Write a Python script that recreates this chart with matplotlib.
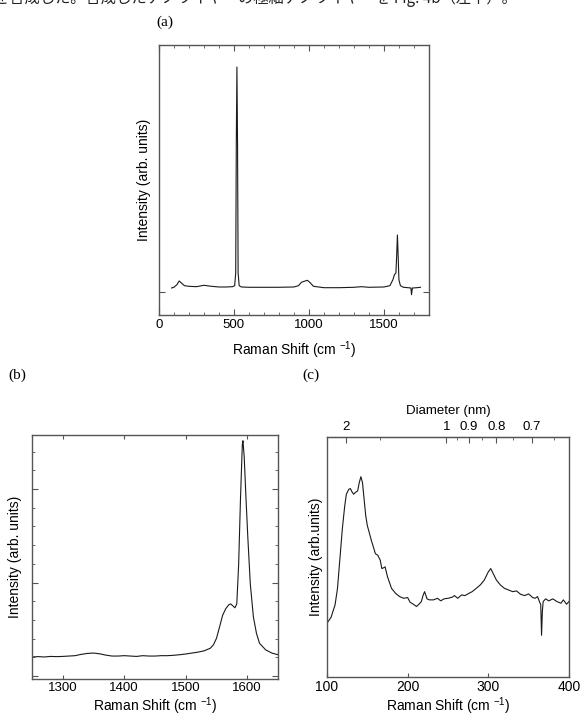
import numpy as np
import matplotlib
matplotlib.use("Agg")
from matplotlib import pyplot as plt
from matplotlib.ticker import MultipleLocator, FixedLocator, NullFormatter

plt.rcParams['font.family'] = ['Liberation Sans', 'DejaVu Sans']
plt.rcParams['mathtext.fontset'] = 'custom'
plt.rcParams['mathtext.rm'] = 'Liberation Sans'
plt.rcParams['mathtext.it'] = 'Liberation Sans:italic'

# (a) wide Raman spectrum
shift_a = [84, 100, 120, 135, 150, 170, 200, 250, 300, 350, 400, 450, 490, 505,
           512, 516, 520, 524, 528, 535, 550, 600, 700, 800, 900, 930, 950, 975,
           990, 1010, 1030, 1100, 1200, 1300, 1350, 1400, 1500, 1540, 1560, 1570,
           1580, 1585, 1590, 1595, 1600, 1610, 1630, 1660, 1680, 1684, 1690, 1720,
           1744]
int_a = [4, 4.7, 7.3, 11, 9, 6.3, 5.7, 5.3, 6.7, 5.7, 5, 5, 5.3, 6.3,
         19, 152, 225, 152, 19, 6.3, 5, 4.7, 4.7, 4.7, 5, 6.3, 9.7, 11,
         11.7, 9, 5.7, 4.3, 4.3, 4.7, 5.3, 4.7, 5, 6.3, 12.3, 17.3,
         19, 36, 57, 36, 12.3, 6.3, 4.7, 4.3, 4, -2.7, 4, 4.3,
         4.7]

# (b) G band region
shift_b = [1250, 1260, 1270, 1280, 1290, 1300, 1310, 1320, 1330, 1340, 1350, 1360,
           1370, 1380, 1390, 1400, 1410, 1420, 1430, 1440, 1450, 1460, 1470, 1480,
           1490, 1500, 1510, 1520, 1530, 1540, 1545, 1550, 1555, 1560, 1565, 1570,
           1573, 1576, 1580, 1583, 1586, 1589, 1592, 1593, 1595, 1598, 1601, 1605,
           1610, 1615, 1620, 1630, 1640, 1650]
int_b = [1.02, 1.04, 1.02, 1.05, 1.04, 1.05, 1.07, 1.09, 1.16, 1.21, 1.23, 1.19,
         1.12, 1.07, 1.07, 1.09, 1.07, 1.05, 1.09, 1.07, 1.07, 1.09, 1.09, 1.11,
         1.14, 1.18, 1.23, 1.28, 1.35, 1.49, 1.67, 2.02, 2.63, 3.25, 3.6, 3.81,
         3.86, 3.77, 3.65, 3.86, 5.96, 9.47, 12.37, 12.58, 11.75, 9.47, 7.37, 4.91,
         3.16, 2.28, 1.75, 1.4, 1.23, 1.14]

# (c) RBM region
shift_c = [100, 105, 110, 113, 116, 119, 122, 124, 127, 129, 131, 133, 135, 138,
           140, 142, 144, 146, 148, 150, 155, 160, 163, 166, 168, 170, 172, 175,
           180, 185, 190, 195, 200, 203, 207, 211, 214, 217, 219, 221, 224, 227,
           232, 237, 241, 245, 250, 255, 258, 262, 267, 271, 276, 280, 285, 290,
           295, 300, 303, 306, 310, 315, 320, 325, 330, 335, 340, 345, 350, 355,
           358, 361, 363, 365, 366, 367, 368, 371, 375, 380, 385, 390, 393, 397, 400]
int_c = [54.3, 60, 72.7, 89.3, 119.3, 149.3, 172.7, 184.3, 189.3, 190, 186.7, 184.3,
         186, 187.7, 196, 202, 196, 179.3, 162.7, 152.7, 137.7, 124.3, 122.7, 117.7,
         109.3, 110, 111, 101, 89.3, 84.3, 81, 79.3, 80, 75.3, 73.3, 71, 73.3, 76,
         82, 86, 78.7, 77.7, 77.7, 79.3, 76.7, 78.7, 79.3, 80.3, 82, 79.3, 82.7, 82,
         84.3, 86, 89.3, 92.7, 97.7, 106, 109.3, 104.3, 97.7, 92.7, 89.3, 87.7, 86,
         86.7, 83.3, 82, 83.7, 80, 79.3, 81, 76.7, 72.7, 42, 66, 76, 78.7, 76.7, 78.7,
         76, 74.3, 77.7, 73.3, 76]

diam_major = [2, 1, 0.9, 0.8, 0.7]
diam_minor = [1.5, 0.95, 0.85, 0.75, 0.65]

line_kw = dict(color='#1a1a1a', lw=0.8)
spine_col = '#555555'
xlabel = r'Raman Shift (cm $^{-1}$)'

fig = plt.figure(figsize=(5.8, 7.18), dpi=100)


def style_spines(ax):
    for s in ax.spines.values():
        s.set_color(spine_col)
        s.set_linewidth(1.0)


# ---- (a)
ax1 = fig.add_axes([0.274, 0.5613, 0.4655, 0.376])
ax1.plot(shift_a, int_a, **line_kw)
ax1.set_xlim(0, 1800)
ax1.set_ylim(-23, 247)
ax1.xaxis.set_major_locator(MultipleLocator(500))
ax1.xaxis.set_minor_locator(MultipleLocator(100))
ax1.set_yticks([0])
ax1.set_yticklabels([])
ax1.tick_params(axis='x', which='both', direction='in', top=True, bottom=True,
                labelsize=9.5, pad=3, color=spine_col)
ax1.tick_params(axis='x', which='major', length=4)
ax1.tick_params(axis='x', which='minor', length=2.5)
ax1.tick_params(axis='y', direction='in', left=True, right=True, length=4.5,
                color=spine_col)
ax1.set_xlabel(xlabel, fontsize=10, labelpad=6)
ax1.set_ylabel('Intensity (arb. units)', fontsize=10, labelpad=2)
style_spines(ax1)

# ---- (b)
ax2 = fig.add_axes([0.0552, 0.0545, 0.4241, 0.3400])
ax2.plot(shift_b, int_b, **line_kw)
ax2.set_xlim(1250, 1650)
ax2.set_ylim(-0.15, 12.9)
ax2.xaxis.set_major_locator(MultipleLocator(100))
ax2.yaxis.set_major_locator(MultipleLocator(5))
ax2.yaxis.set_minor_locator(MultipleLocator(1))
ax2.yaxis.set_major_formatter(NullFormatter())
ax2.tick_params(axis='x', direction='in', top=True, bottom=True, length=3,
                labelsize=9.5, pad=2.5, color=spine_col)
ax2.tick_params(axis='y', which='both', direction='in', left=True, right=True,
                color=spine_col)
ax2.tick_params(axis='y', which='major', length=4.5)
ax2.tick_params(axis='y', which='minor', length=2.5)
ax2.set_xlabel(xlabel, fontsize=10, labelpad=1)
ax2.set_ylabel('Intensity (arb. units)', fontsize=10, labelpad=4)
style_spines(ax2)

# ---- (c)
ax3 = fig.add_axes([0.5638, 0.0573, 0.4172, 0.334])
ax3.plot(shift_c, int_c, **line_kw)
ax3.set_xlim(100, 400)
ax3.set_ylim(0, 242)
ax3.set_xticks([100, 200, 300, 400])
ax3.set_yticks([])
ax3.tick_params(axis='x', direction='in', top=False, length=3, labelsize=10,
                pad=2.5, color=spine_col)
ax3.set_xlabel(xlabel, fontsize=10, labelpad=0.5)
ax3.set_ylabel('Intensity (arb.units)', fontsize=10, labelpad=3)
style_spines(ax3)

top = ax3.secondary_xaxis('top', functions=(lambda w: 248.0 / w,
                                            lambda d: 248.0 / d))
top.xaxis.set_major_locator(FixedLocator(diam_major))
top.xaxis.set_minor_locator(FixedLocator(diam_minor))
top.set_xticklabels(['2', '1', '0.9', '0.8', '0.7'])
top.tick_params(axis='x', which='both', direction='in', color=spine_col,
                labelsize=9.5, pad=3)
top.tick_params(axis='x', which='major', length=4)
top.tick_params(axis='x', which='minor', length=2.5)
top.set_xlabel('Diameter (nm)', fontsize=9.5, labelpad=5)
top.spines['top'].set_color(spine_col)

# panel labels
serif = ['Liberation Serif', 'DejaVu Serif']
fig.text(165 / 580, 1 - 22 / 718, '(a)', family=serif, fontsize=11,
         ha='center', va='center')
fig.text(17 / 580, 1 - 375 / 718, '(b)', family=serif, fontsize=11,
         ha='center', va='center')
fig.text(311 / 580, 1 - 375 / 718, '(c)', family=serif, fontsize=11,
         ha='center', va='center')

# cut-off line of body text at the top of the page
fig.text(-0.01, 1 + 2 / 718,
         'を合成した。合成したナノワイヤーの極細ナノワイヤーを Fig. 4b（左下）。',
         family=['Noto Sans CJK JP', 'DejaVu Sans'], fontsize=11,
         ha='left', va='center', color='#222222')

fig.savefig('out.png', dpi=100)
